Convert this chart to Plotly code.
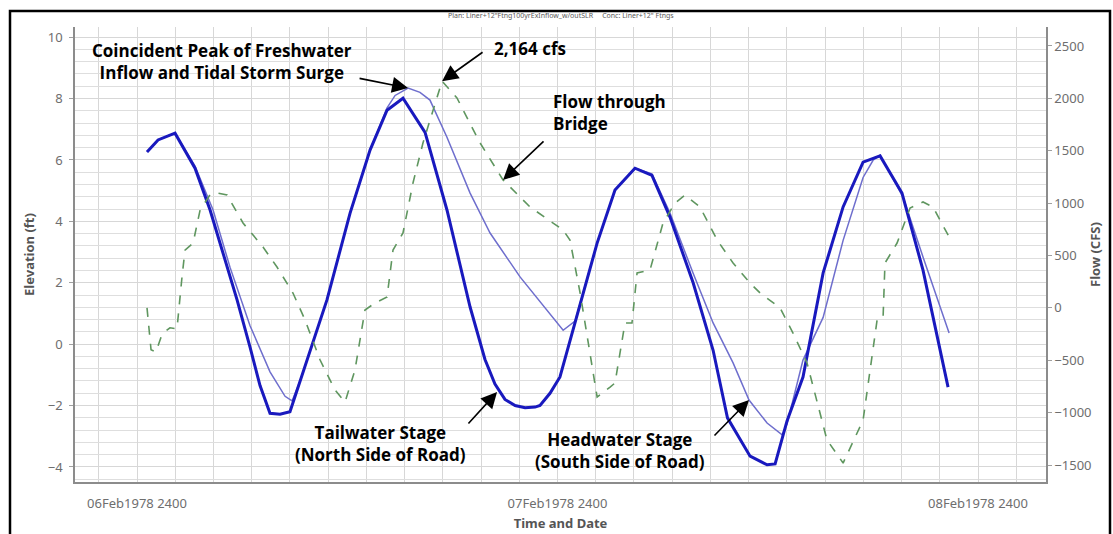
import plotly.graph_objects as go

# Hours after 06Feb1978 2400 for each stage sample
tail_hours = [0.57, 1.20, 2.17, 3.31, 4.17, 5.14, 5.71, 6.45, 7.02, 7.59, 8.16, 8.73, 9.30, 9.87,
              10.84, 12.16, 13.30, 14.27, 15.18, 16.44, 17.69, 19.01, 19.86, 20.43, 21.00, 21.58,
              22.15, 22.72, 23.00, 23.57, 24.14, 26.26, 27.28, 28.42, 29.39, 30.42, 31.74, 32.88,
              33.70, 34.99, 35.96, 36.42, 37.10, 38.01, 39.16, 40.30, 41.44, 42.41, 43.66, 44.86,
              46.29]
# Tailwater stage (north side of road), ft
tail_stage = [6.26, 6.65, 6.87, 5.73, 4.37, 2.51, 1.44, -0.10, -1.35, -2.25, -2.28, -2.20, -1.20,
              -0.20, 1.44, 4.27, 6.32, 7.62, 8.01, 6.90, 4.37, 1.21, -0.50, -1.30, -1.80, -2.00,
              -2.07, -2.05, -2.00, -1.60, -1.07, 3.29, 5.02, 5.73, 5.50, 4.14, 2.00, -0.20,
              -2.40, -3.65, -3.93, -3.90, -2.50, -1.07, 2.32, 4.47, 5.93, 6.13, 4.92, 2.41,
              -1.40]

head_hours = [0.57, 1.20, 2.17, 3.31, 4.34, 5.31, 6.45, 7.59, 8.45, 8.85, 9.30, 9.87, 10.84, 12.16,
              13.30, 14.27, 14.73, 15.47, 16.15, 16.72, 17.69, 19.01, 20.15, 21.86, 23.74, 24.32,
              25.00, 26.26, 27.28, 28.42, 29.39, 30.42, 31.74, 32.88, 34.02, 34.93, 35.96, 36.82,
              37.10, 38.01, 39.16, 40.30, 41.44, 42.01, 42.41, 43.72, 44.86, 46.35]
# Headwater stage (south side of road), ft
head_stage = [6.26, 6.65, 6.87, 5.80, 4.37, 2.50, 0.60, -0.90, -1.70, -1.85, -1.20, -0.20, 1.44,
              4.27, 6.32, 7.70, 8.10, 8.34, 8.20, 7.95, 6.74, 4.92, 3.62, 2.19, 0.88, 0.45,
              0.75, 3.29, 5.02, 5.73, 5.55, 4.27, 2.31, 0.69, -0.61, -1.82, -2.57, -2.95,
              -2.60, -0.52, 0.87, 3.38, 5.43, 5.99, 6.16, 4.79, 2.84, 0.36]

flow_hours = [0.57, 0.80, 1.08, 1.43, 1.88, 2.28, 2.57, 2.74, 3.20, 3.60, 4.17, 4.57, 5.14, 6.05,
              7.19, 7.99, 8.90, 9.59, 10.45, 11.30, 11.87, 12.44, 13.01, 13.58, 14.27, 14.61,
              15.18, 15.75, 16.32, 17.41, 18.26, 19.58, 20.89, 22.43, 24.32, 24.71, 25.29, 26.26,
              27.00, 27.28, 27.85, 28.25, 28.54, 29.28, 30.02, 30.71, 31.28, 32.13, 33.11, 34.02,
              34.99, 35.56, 36.70, 37.44, 38.24, 39.38, 40.30, 41.44, 42.24, 42.58, 42.69, 43.38,
              44.12, 44.86, 45.43, 46.35]
# Flow through bridge, cfs
flow_cfs = [0, -400, -420, -250, -190, -200, 300, 552, 619, 934, 1080, 1097, 1077, 810,
            581, 390, 142, -116, -498, -784, -900, -593, -20, 46, 104, 552,
            715, 1192, 1574, 2164, 2004, 1574, 1221, 963, 743, 648, 142, -851,
            -756, -717, -145, -145, 333, 362, 810, 1001, 1077, 963, 648, 428,
            237, 142, 0, -240, -526, -1261, -1481, -1071, -116, -97, 428, 619,
            953, 1011, 963, 677]

day_ticks = [0, 24, 48]
day_labels = ["06Feb1978 2400", "07Feb1978 2400", "08Feb1978 2400"]

fig = go.Figure()

fig.add_trace(go.Scatter(x=flow_hours, y=flow_cfs, yaxis="y2", mode="lines",
                         line=dict(color="rgb(95,150,95)", width=1.6, dash="dash"),
                         name="Flow"))
fig.add_trace(go.Scatter(x=head_hours, y=head_stage, mode="lines",
                         line=dict(color="rgb(110,110,205)", width=1.5),
                         name="Headwater Stage"))
fig.add_trace(go.Scatter(x=tail_hours, y=tail_stage, mode="lines",
                         line=dict(color="rgb(25,25,190)", width=3),
                         name="Tailwater Stage"))

grid = "rgb(215,215,215)"
tick_font = dict(family="Noto Sans", size=13, color="rgb(110,110,110)")
title_font = dict(family="Noto Sans", size=13, color="rgb(85,85,85)")

fig.update_layout(
    width=1113, height=534,
    margin=dict(l=75, r=67, t=27, b=52),
    paper_bgcolor="white", plot_bgcolor="white",
    showlegend=False,
    xaxis=dict(
        range=[-3.54, 51.88], tickvals=day_ticks, ticktext=day_labels,
        showgrid=True, gridcolor=grid, gridwidth=1,
        minor=dict(tick0=0, dtick=24 / 11, showgrid=True, gridcolor=grid, gridwidth=1),
        showline=True, linecolor="rgb(140,140,140)", linewidth=1.5,
        ticks="", tickfont=tick_font, zeroline=False, ticklabelstandoff=9,
        automargin=False,
        title=dict(text="<b>Time and Date</b>", font=title_font, standoff=8),
    ),
    yaxis=dict(
        range=[-4.49, 10.33], tickvals=[-4, -2, 0, 2, 4, 6, 8, 10],
        showgrid=True, gridcolor=grid, gridwidth=1,
        minor=dict(tick0=0, dtick=0.4, showgrid=True, gridcolor="rgb(222,222,222)", gridwidth=1),
        showline=True, linecolor="rgb(140,140,140)", linewidth=1.5,
        ticks="outside", ticklen=4, tickcolor="rgb(160,160,160)",
        tickfont=tick_font, zeroline=False, ticklabelstandoff=4,
        automargin=False,
        title=dict(text="<b>Elevation (ft)</b>", font=title_font, standoff=10),
    ),
    yaxis2=dict(
        range=[-1662, 2681], tickvals=[-1500, -1000, -500, 0, 500, 1000, 1500, 2000, 2500],
        overlaying="y", side="right", showgrid=False,
        showline=True, linecolor="rgb(140,140,140)", linewidth=1.5,
        ticks="outside", ticklen=4, tickcolor="rgb(160,160,160)",
        tickfont=tick_font, zeroline=False,
        automargin=False,
        title=dict(text="<b>Flow (CFS)</b>", font=title_font, standoff=0),
    ),
)

# Small plan caption above the plot
fig.add_annotation(xref="paper", yref="paper", x=0.5, y=1.01, yanchor="bottom",
                   text='Plan: Liner+12"Ftng100yrExInflow_w/outSLR     Conc: Liner+12" Ftngs',
                   showarrow=False, font=dict(family="Noto Sans", size=7, color="rgb(90,90,90)"))

note_font = dict(family="Open Sans", size=17, color="black")

# Callout labels
labels = [
    (4.85, 9.22, "<b>Coincident Peak of Freshwater<br>Inflow and Tidal Storm Surge</b>", "center", "y"),
    (22.43, 9.64, "<b>2,164 cfs</b>", "center", "y"),
    (23.63, 7.53, "<b>Flow through<br>Bridge</b>", "left", "y"),
    (13.87, -3.22, "<b>Tailwater Stage<br>(North Side of Road)</b>", "center", "y"),
    (27.57, -3.48, "<b>Headwater Stage<br>(South Side of Road)</b>", "center", "y"),
]
for x, y, txt, anchor, yref in labels:
    fig.add_annotation(x=x, y=y, xref="x", yref=yref, text=txt, showarrow=False,
                       xanchor=anchor, align=anchor, font=note_font)

# Arrows pointing at the features
arrows = [
    (15.47, 8.34, "y", -50, -10),
    (17.41, 2164, "y2", 42, -30),
    (20.89, 1221, "y2", 42, -40),
    (20.55, -1.56, "y", -30, 33),
    (34.93, -1.82, "y", -36, 37),
]
for x, y, yref, ax, ay in arrows:
    fig.add_annotation(x=x, y=y, xref="x", yref=yref, ax=ax, ay=ay, text="",
                       showarrow=True, arrowhead=2, arrowsize=2.0, arrowwidth=1.6,
                       arrowcolor="black", standoff=0, startstandoff=0,
                       font=dict(size=1))

# Outer frame
fig.add_shape(type="rect", xref="paper", yref="paper",
              x0=(10 - 75) / 971, x1=(1110 - 75) / 971,
              y0=(482 - 545) / 455, y1=(482 - 11) / 455,
              line=dict(color="black", width=2.5), fillcolor="rgba(0,0,0,0)")

fig.write_html("out.html")
